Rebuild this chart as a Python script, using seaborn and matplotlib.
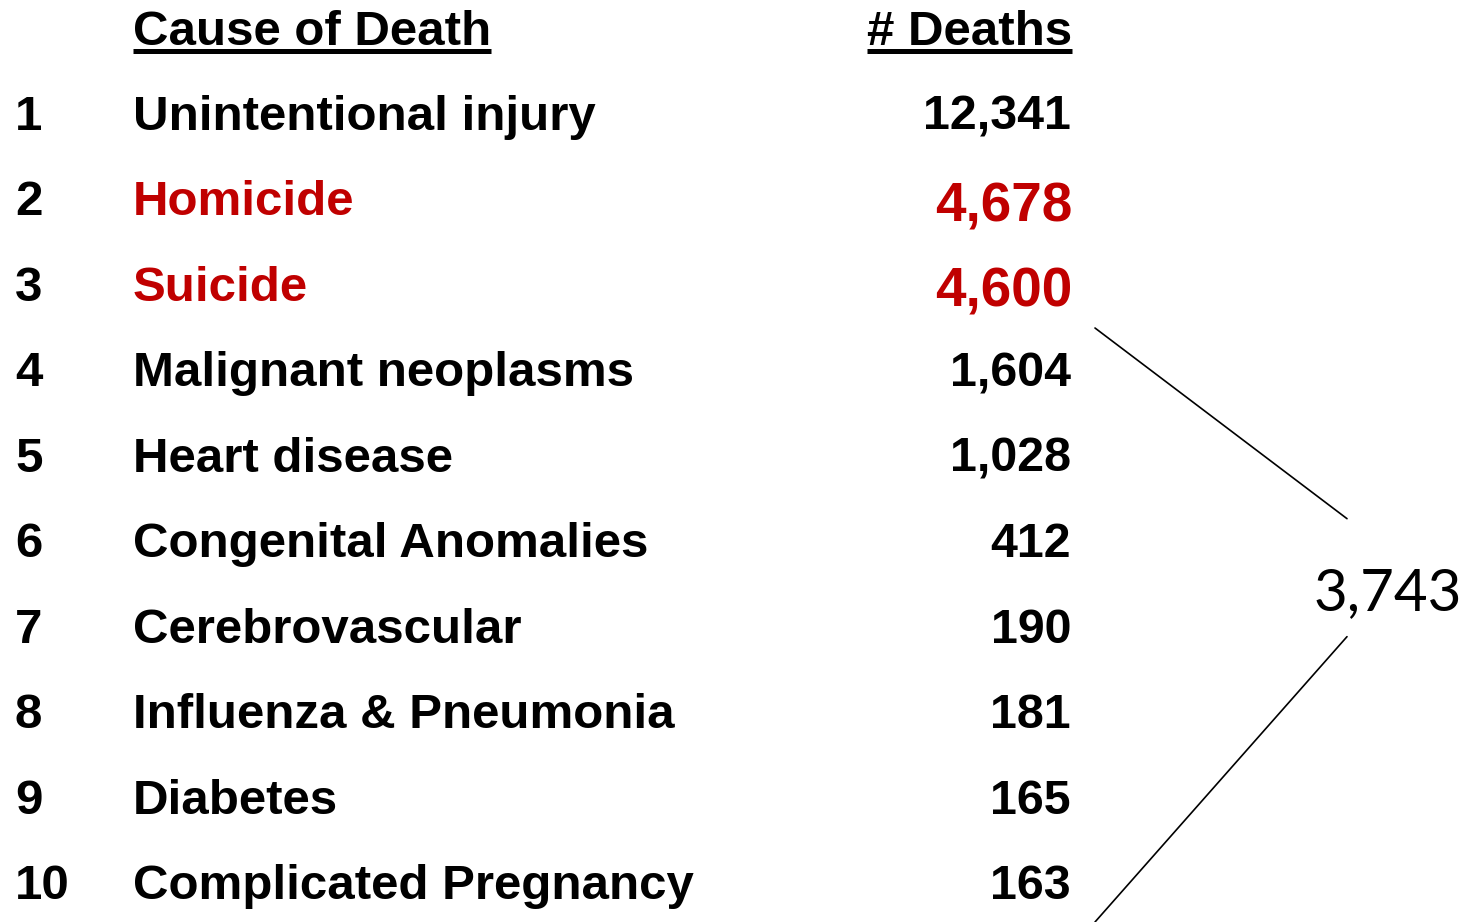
"""
Leading causes of death table, recreated with seaborn / matplotlib
"""

import matplotlib
matplotlib.use('Agg')
import matplotlib.pyplot as plt
import seaborn as sns
import pandas as pd

# Datos
ranks = [1, 2, 3, 4, 5, 6, 7, 8, 9, 10]
causes = ['Unintentional injury', 'Homicide', 'Suicide', 'Malignant neoplasms',
          'Heart disease', 'Congenital Anomalies', 'Cerebrovascular',
          'Influenza & Pneumonia', 'Diabetes', 'Complicated Pregnancy']
deaths = [12341, 4678, 4600, 1604, 1028, 412, 190, 181, 165, 163]
highlighted = ['Homicide', 'Suicide']
headers = ['Cause of Death', '# Deaths']

df = pd.DataFrame({'rank': ranks, 'cause': causes, 'deaths': deaths})
others_total = df['deaths'].iloc[3:].sum()

sns.set_theme(style='white')
plt.rcParams['font.family'] = ['Liberation Sans', 'DejaVu Sans']

RED = '#C00000'
W, H = 1475, 922
FS = 35.5      # tamaño base
FS_NUM = 34.8  # cifras normales
FS_HL = 39.5   # cifras destacadas

fig = plt.figure(figsize=(W / 100, H / 100), dpi=100)
ax = fig.add_axes([0, 0, 1, 1])
ax.set_xlim(0, W)
# one data unit per row, baseline of header at pixel 45, row pitch 85.5 px
ax.set_ylim((H - 45) / 85.5, -45 / 85.5)
ax.axis('off')

x_rank, x_cause, x_value = 15, 133, 1071

# Encabezados
h1 = ax.text(x_cause, 0, headers[0], fontsize=FS, fontweight='bold',
             ha='left', va='baseline', color='black')
h2 = ax.text(x_value + 1, 0, headers[1], fontsize=FS, fontweight='bold',
             ha='right', va='baseline', color='black')

for row in df.itertuples():
    hl = row.cause in highlighted
    color = RED if hl else 'black'
    ax.text(x_rank, row.rank - 0.01, str(row.rank), fontsize=FS, fontweight='bold',
            ha='left', va='baseline', color='black')
    ax.text(x_cause, row.rank - 0.01, row.cause, fontsize=FS, fontweight='bold',
            ha='left', va='baseline', color=color)
    ax.text(x_value + (1 if hl else 0), row.rank + (0.06 if hl else -0.01),
            f'{row.deaths:,}', fontsize=FS_HL if hl else FS_NUM,
            fontweight='bold', ha='right', va='baseline', color=color)

# Subrayado de encabezados
fig.canvas.draw()
renderer = fig.canvas.get_renderer()
for t in (h1, h2):
    bb = t.get_window_extent(renderer)
    y_px = H - 51.5
    fig.add_artist(plt.Line2D([bb.x0 / W, bb.x1 / W], [y_px / H, y_px / H],
                              transform=fig.transFigure, color='black', lw=3.6,
                              solid_capstyle='butt'))

# Llave para las causas 4-10
ax.plot([1095, 1347], [3.31, 5.54], color='black', lw=1.2)
ax.plot([1347, 1095], [6.92, (H - 45) / 85.5], color='black', lw=1.2)
ax.text(1388, 6.61, f'{others_total:,}', fontsize=42, family=['Lato', 'DejaVu Sans'],
        ha='center', va='baseline', color='black')

fig.savefig('out.png', dpi=100)
